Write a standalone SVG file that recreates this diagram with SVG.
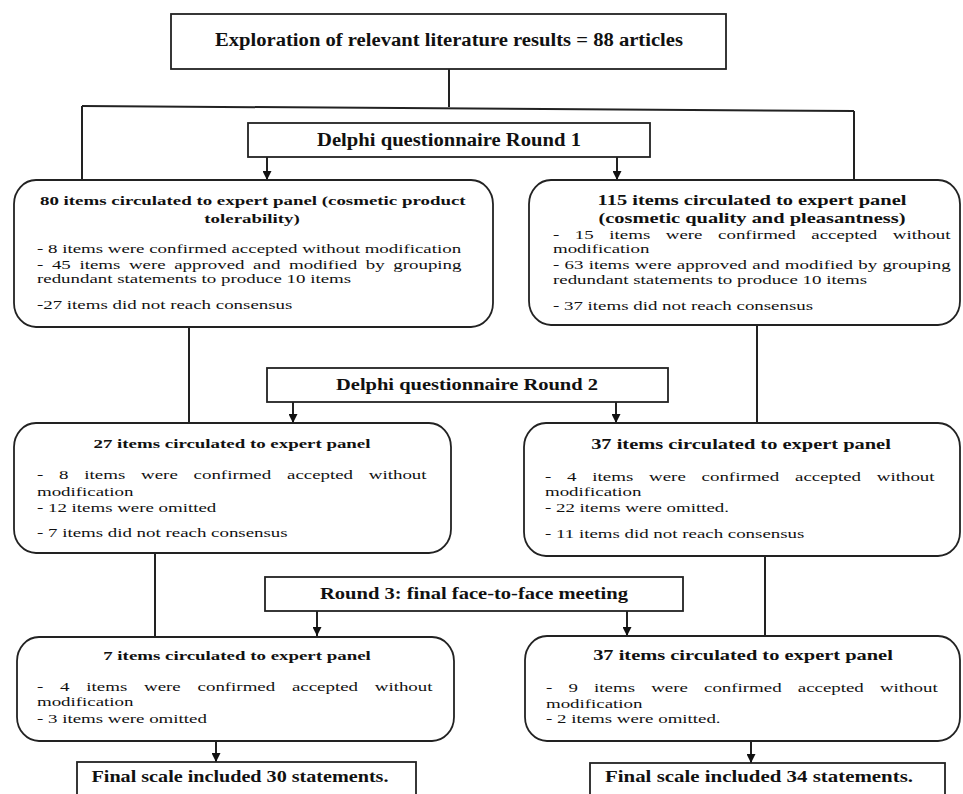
<svg xmlns="http://www.w3.org/2000/svg" width="963" height="794" viewBox="0 0 963 794">
<defs>
<style>
.box{fill:#fff;stroke:#222;stroke-width:1.8}
.ln{fill:none;stroke:#222;stroke-width:2}
.hd{font-family:"Liberation Serif","Times New Roman",serif;font-weight:bold;font-size:16.5px;fill:#111;text-anchor:middle}
.big{font-size:18px}
.ti{font-family:"Liberation Serif","Times New Roman",serif;font-weight:bold;font-size:13.5px;fill:#111;text-anchor:middle}
.tr{font-size:14.6px}
.bd{font-family:"Liberation Serif","Times New Roman",serif;font-size:13.5px;fill:#111}
</style>
<marker id="ah" viewBox="0 0 10 10" refX="10" refY="5" markerWidth="9" markerHeight="9" markerUnits="userSpaceOnUse" orient="auto">
<path d="M0,0 L10,5 L0,10 z" fill="#111"/>
</marker>
</defs>
<rect width="963" height="794" fill="#fff"/>

<g id="connectors">
<line class="ln" x1="449" y1="69" x2="449" y2="107"/>
<line class="ln" x1="82" y1="106" x2="854" y2="111"/>
<line class="ln" x1="82" y1="106" x2="82" y2="180"/>
<line class="ln" x1="854" y1="111" x2="854" y2="180"/>
<line class="ln" x1="267" y1="157" x2="267" y2="180" marker-end="url(#ah)"/>
<line class="ln" x1="617" y1="157" x2="617" y2="180" marker-end="url(#ah)"/>
<line class="ln" x1="189" y1="327" x2="189" y2="423"/>
<line class="ln" x1="757" y1="325" x2="757" y2="423"/>
<line class="ln" x1="293" y1="402" x2="293" y2="423" marker-end="url(#ah)"/>
<line class="ln" x1="616" y1="402" x2="616" y2="423" marker-end="url(#ah)"/>
<line class="ln" x1="155" y1="553" x2="155" y2="637"/>
<line class="ln" x1="765" y1="556" x2="765" y2="636"/>
<line class="ln" x1="317" y1="611" x2="317" y2="636" marker-end="url(#ah)"/>
<line class="ln" x1="627" y1="611" x2="627" y2="636" marker-end="url(#ah)"/>
<line class="ln" x1="216" y1="741" x2="216" y2="762" marker-end="url(#ah)"/>
<line class="ln" x1="751" y1="741" x2="751" y2="763" marker-end="url(#ah)"/>
</g>

<g id="top">
<rect class="box" x="171" y="14" width="555" height="55"/>
<text class="hd big" x="449" y="46" textLength="468" lengthAdjust="spacingAndGlyphs">Exploration of relevant literature results = 88 articles</text>
</g>

<g id="round1">
<rect class="box" x="248" y="123" width="402" height="34"/>
<text class="hd big" x="449" y="146" textLength="264" lengthAdjust="spacingAndGlyphs">Delphi questionnaire Round 1</text>
</g>

<g id="r1-left">
<rect class="box" x="14" y="180" width="479" height="147" rx="22" ry="24"/>
<g transform="scale(1.4,1)">
<text class="ti" x="28.57" y="205" style="text-anchor:start">80 items circulated to expert panel (cosmetic product</text>
<text class="ti" x="180" y="223">tolerability)</text>
<text class="bd" x="26.43" y="253">- 8 items were confirmed accepted without modification</text>
<text class="bd" x="26.43" y="269" word-spacing="2.79">- 45 items were approved and modified by grouping</text>
<text class="bd" x="26.43" y="283">redundant statements to produce 10 items</text>
<text class="bd" x="26.43" y="309">-27 items did not reach consensus</text>
</g>
</g>

<g id="r1-right">
<rect class="box" x="529" y="180" width="431" height="145" rx="22" ry="24"/>
<g transform="scale(1.4,1)">
<text class="ti tr" x="537.14" y="205">115 items circulated to expert panel</text>
<text class="ti tr" x="537.14" y="223">(cosmetic quality and pleasantness)</text>
<text class="bd" x="395" y="239" word-spacing="7.76">- 15 items were confirmed accepted without</text>
<text class="bd" x="395" y="253">modification</text>
<text class="bd" x="395" y="269" word-spacing="0.39">- 63 items were approved and modified by grouping</text>
<text class="bd" x="395" y="284">redundant statements to produce 10 items</text>
<text class="bd" x="395" y="310">- 37 items did not reach consensus</text>
</g>
</g>

<g id="round2">
<rect class="box" x="267" y="368" width="401" height="34"/>
<text class="hd" x="467" y="390" textLength="262" lengthAdjust="spacingAndGlyphs">Delphi questionnaire Round 2</text>
</g>

<g id="r2-left">
<rect class="box" x="14" y="423" width="437" height="130" rx="22" ry="24"/>
<g transform="scale(1.4,1)">
<text class="ti" x="165.71" y="448">27 items circulated to expert panel</text>
<text class="bd" x="26.43" y="479" word-spacing="7.93">- 8 items were confirmed accepted without</text>
<text class="bd" x="26.43" y="496">modification</text>
<text class="bd" x="26.43" y="512">- 12 items were omitted</text>
<text class="bd" x="26.43" y="537">- 7 items did not reach consensus</text>
</g>
</g>

<g id="r2-right">
<rect class="box" x="524" y="423" width="436" height="133" rx="22" ry="24"/>
<g transform="scale(1.4,1)">
<text class="ti tr" x="529.29" y="449">37 items circulated to expert panel</text>
<text class="bd" x="389.29" y="481" word-spacing="7.93">- 4 items were confirmed accepted without</text>
<text class="bd" x="389.29" y="496">modification</text>
<text class="bd" x="389.29" y="512">- 22 items were omitted.</text>
<text class="bd" x="389.29" y="538">- 11 items did not reach consensus</text>
</g>
</g>

<g id="round3">
<rect class="box" x="265" y="577" width="418" height="34"/>
<text class="hd" x="474" y="599" textLength="308" lengthAdjust="spacingAndGlyphs">Round 3: final face-to-face meeting</text>
</g>

<g id="r3-left">
<rect class="box" x="17" y="637" width="437" height="104" rx="22" ry="24"/>
<g transform="scale(1.4,1)">
<text class="ti" x="169.29" y="660">7 items circulated to expert panel</text>
<text class="bd" x="26.43" y="691" word-spacing="8.64">- 4 items were confirmed accepted without</text>
<text class="bd" x="26.43" y="706">modification</text>
<text class="bd" x="26.43" y="723">- 3 items were omitted</text>
</g>
</g>

<g id="r3-right">
<rect class="box" x="525" y="636" width="435" height="105" rx="22" ry="24"/>
<g transform="scale(1.4,1)">
<text class="ti tr" x="530.71" y="660">37 items circulated to expert panel</text>
<text class="bd" x="390" y="692" word-spacing="8.18">- 9 items were confirmed accepted without</text>
<text class="bd" x="390" y="708">modification</text>
<text class="bd" x="390" y="723">- 2 items were omitted.</text>
</g>
</g>

<g id="final-left">
<rect class="box" x="77" y="762" width="339" height="40"/>
<text class="hd" x="240" y="782" textLength="297" lengthAdjust="spacingAndGlyphs">Final scale included 30 statements.</text>
</g>

<g id="final-right">
<rect class="box" x="590" y="763" width="355" height="40"/>
<text class="hd" x="759" y="782" textLength="308" lengthAdjust="spacingAndGlyphs">Final scale included 34 statements.</text>
</g>
</svg>
